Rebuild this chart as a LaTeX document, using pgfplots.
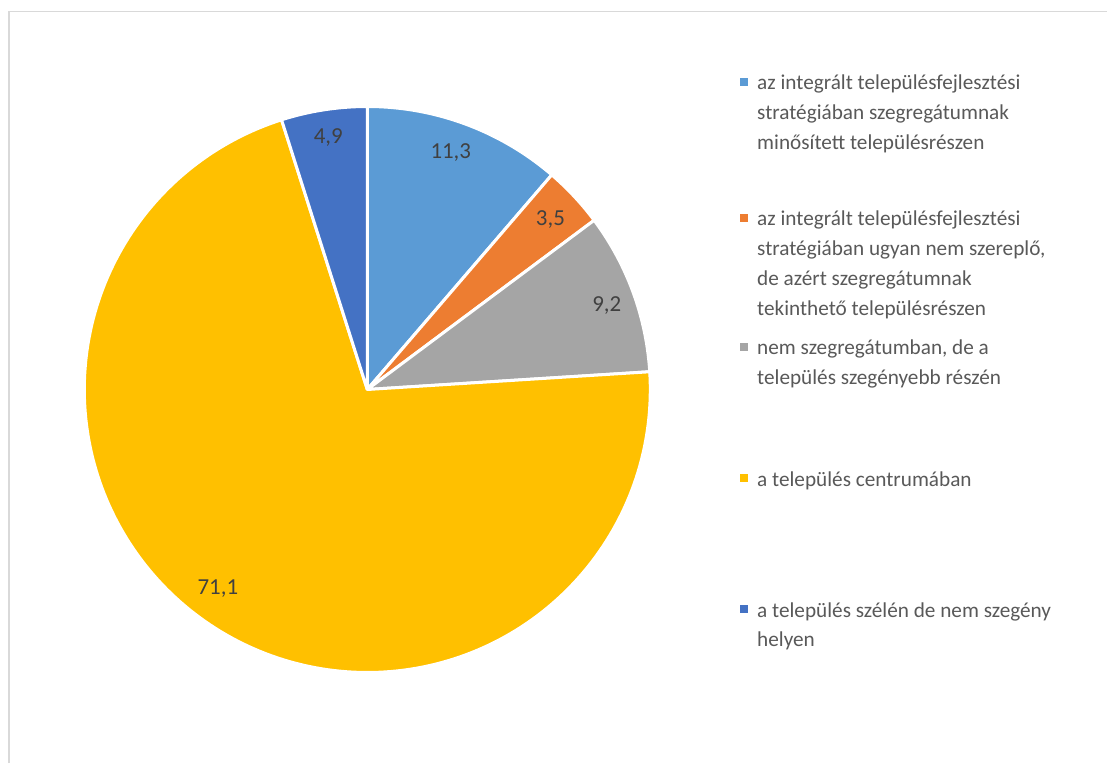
\documentclass[border=0pt]{standalone}
\usepackage{fontspec}
\setmainfont{Carlito}
\usepackage{pgfplots}
\pgfplotsset{compat=1.18}

\definecolor{sA}{HTML}{5B9BD5}
\definecolor{sB}{HTML}{ED7D31}
\definecolor{sC}{HTML}{A5A5A5}
\definecolor{sD}{HTML}{FFC000}
\definecolor{sE}{HTML}{4472C4}
\definecolor{legtext}{HTML}{595959}
\definecolor{labtext}{HTML}{404040}
\definecolor{frame}{HTML}{D9D9D9}

% slice values (percent), clockwise from 12 o'clock
\def\vA{11.3}
\def\vB{3.5}
\def\vC{9.2}
\def\vD{71.1}
\def\vE{4.9}

% legend entry: colour, baseline of first line (px from top), text
\newcommand\legentry[3]{%
  \fill[#1] (740bp,{(763-#2+4.25)*1bp}) rectangle (747.5bp,{(763-#2+11.75)*1bp});
  \node[anchor=base west, inner sep=0pt, text=legtext, font=\fontsize{21.3}{30}\selectfont]
    at (757bp,{(763-#2)*1bp}) {\parbox[t]{345bp}{\raggedright #3}};
}

\begin{document}
\begin{tikzpicture}
\fill[white] (0,0) rectangle (1108bp,763bp);
\draw[frame, line width=1.5bp] (9bp,0) -- (9bp,751.5bp) -- (1107bp,751.5bp);

\pgfmathsetmacro\aA{90}
\pgfmathsetmacro\aB{\aA-3.6*\vA}
\pgfmathsetmacro\aC{\aB-3.6*\vB}
\pgfmathsetmacro\aD{\aC-3.6*\vC}
\pgfmathsetmacro\aE{\aD-3.6*\vD}
\pgfmathsetmacro\aF{\aE-3.6*\vE}

\begin{axis}[
    at={(367.3bp,373.5bp)}, anchor=center,
    width=566bp, height=566bp, scale only axis,
    xmin=-1, xmax=1, ymin=-1, ymax=1,
    axis lines=none, clip=false,
    every axis plot/.append style={draw=white, line width=3bp, line join=round},
]
\addplot[fill=sA, domain=\aB:\aA, samples=80, variable=\t] ({cos(\t)},{sin(\t)}) -- (axis cs:0,0) -- cycle;
\addplot[fill=sB, domain=\aC:\aB, samples=40, variable=\t] ({cos(\t)},{sin(\t)}) -- (axis cs:0,0) -- cycle;
\addplot[fill=sC, domain=\aD:\aC, samples=60, variable=\t] ({cos(\t)},{sin(\t)}) -- (axis cs:0,0) -- cycle;
\addplot[fill=sD, domain=\aE:\aD, samples=200, variable=\t] ({cos(\t)},{sin(\t)}) -- (axis cs:0,0) -- cycle;
\addplot[fill=sE, domain=\aF:\aE, samples=40, variable=\t] ({cos(\t)},{sin(\t)}) -- (axis cs:0,0) -- cycle;

% data labels
\addplot[draw=none, mark=none, nodes near coords, point meta=explicit symbolic,
    every node near coord/.append style={anchor=center, text=labtext, font=\fontsize{23}{28}\selectfont}]
    coordinates {
    (0.295,0.836) [11,3]
    (0.647,0.601) [3,5]
    (0.846,0.297) [9,2]
    (-0.528,-0.705) [71,1]
    (-0.138,0.889) [4,9]
    };
\end{axis}

\legentry{sA}{90}{az integrált településfejlesztési\\stratégiában szegregátumnak\\minősített településrészen}
\legentry{sB}{226}{az integrált településfejlesztési\\stratégiában ugyan nem szereplő,\\de azért szegregátumnak\\tekinthető településrészen}
\legentry{sC}{355}{nem szegregátumban, de a\\település szegényebb részén}
\legentry{sD}{486}{a település centrumában}
\legentry{sE}{617}{a település szélén de nem szegény\\helyen}
\end{tikzpicture}
\end{document}
